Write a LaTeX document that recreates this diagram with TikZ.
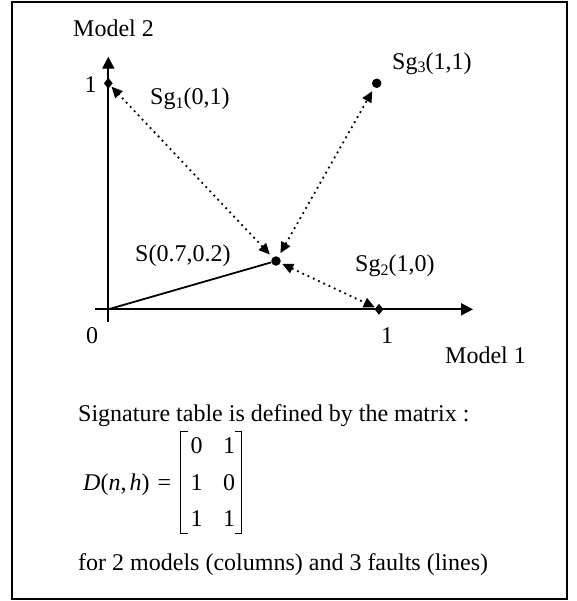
\documentclass[tikz,border=0pt]{standalone}
\usepackage{fontspec}
\setmainfont{Liberation Serif}
\usetikzlibrary{arrows.meta,shapes.geometric}
\newcommand{\sbs}[1]{\raisebox{-3.5bp}{\fontsize{16bp}{16bp}\selectfont #1}}
\begin{document}
\begin{tikzpicture}[x=1bp,y=-1bp,
  txt/.style={anchor=base west,inner sep=0pt,font=\fontsize{24bp}{29bp}\selectfont},
  ctxt/.style={anchor=base,inner sep=0pt,font=\fontsize{24bp}{29bp}\selectfont},
  axis/.style={line width=2bp,-{Triangle[length=12bp,width=12bp]}},
  rdot/.style={circle,fill=black,inner sep=0pt,minimum size=9.5bp},
  ddot/.style={diamond,fill=black,inner sep=0pt,minimum width=9bp,minimum height=11bp},
  dotarrow/.style={line width=1.8bp,dash pattern=on 1.8bp off 4bp,
    {Triangle[length=11bp,width=10bp]}-{Triangle[length=11bp,width=10bp]}},
  bracket/.style={line width=1.1bp}]
\useasboundingbox (0,0) rectangle (577,601);
\draw[line width=2bp] (12,2.5) rectangle (567,599);
% axes
\coordinate (O) at (108.3,309.3);
\coordinate (xs) at (95,309.3);
\coordinate (xe) at (473,309.3);
\coordinate (ys) at (108.3,321.7);
\coordinate (ye) at (108.3,56.7);
\draw[axis] (xs) -- (xe);
\draw[axis] (ys) -- (ye);
% points
\node[ddot] (sg1) at (108.3,83.3) {};
\node[rdot] (sg3) at (376.7,83.3) {};
\node[ddot] (sg2) at (379,309.3) {};
\node[rdot] (s) at (276,261) {};
\draw[line width=1.8bp] (O) -- (s);
% connectors
\draw[dotarrow,shorten <=4bp,shorten >=1bp] (s) -- (sg1);
\draw[dotarrow,shorten <=4bp,shorten >=4bp] (s) -- (sg3);
\draw[dotarrow,shorten <=2bp,shorten >=1bp] (s) -- (sg2);
% labels
\node[txt] (m2) at (73,36.5) {Model 2};
\node[ctxt] (one) at (90.5,93) {1};
\node[txt] (l1) at (150,105) {Sg\sbs{1}(0,1)};
\node[txt] (l3) at (392,69.3) {Sg\sbs{3}(1,1)};
\node[txt] (ls) at (135,261.7) {S(0.7,0.2)};
\node[txt] (l2) at (355,271.7) {Sg\sbs{2}(1,0)};
\node[ctxt] (zero) at (92,343) {0};
\node[ctxt] (onex) at (387,343) {1};
\node[txt] (m1) at (445,363) {Model 1};
% text
\node[txt] (sig) at (78,421.7) {Signature table is defined by the matrix :};
\node[txt] (dnh) at (83,490) {\textit{D}(\textit{n},\hspace{3bp}\textit{h})\hspace{2bp} =};
\node[ctxt] (a11) at (196.7,453.3) {0};
\node[ctxt] (a12) at (229,453.3) {1};
\node[ctxt] (a21) at (196.7,490) {1};
\node[ctxt] (a22) at (229,490) {0};
\node[ctxt] (a31) at (196.7,526.7) {1};
\node[ctxt] (a32) at (229,526.7) {1};
\draw[bracket] (188,431.7) -- (180.7,431.7) -- (180.7,533.3) -- (188,533.3);
\draw[bracket] (235,431.7) -- (241.7,431.7) -- (241.7,533.3) -- (235,533.3);
\node[txt] (for) at (78,570) {for 2 models (columns) and 3 faults (lines)};
\end{tikzpicture}
\end{document}
